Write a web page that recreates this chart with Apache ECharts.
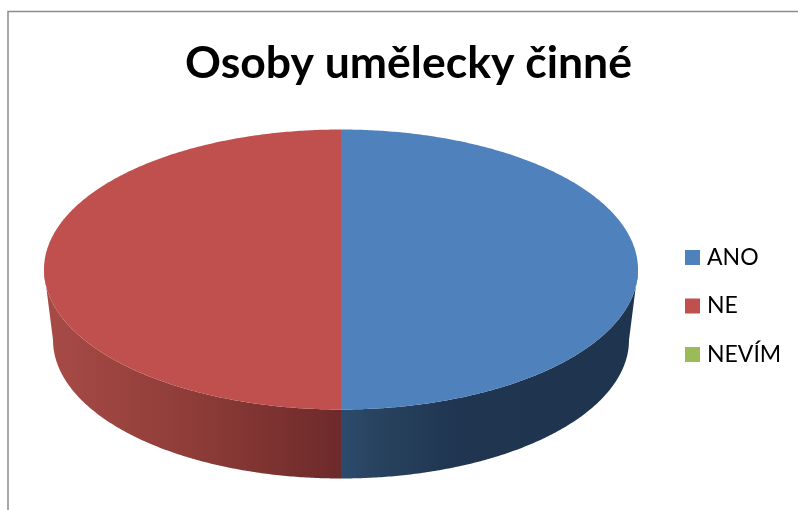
<!DOCTYPE html>
<html><head><meta charset="utf-8">
<style>html,body{margin:0;padding:0;background:#fff}#c{width:798px;height:510px}</style>
<script src="https://cdn.jsdelivr.net/npm/echarts@6/dist/echarts.min.js"></script>
</head><body><div id="c"></div>
<script>
const categories = ['ANO', 'NE', 'NEVÍM'];
const values = [50, 50, 0];

const topColors = ['#4F81BD', '#C0504D', '#9BBB59'];
const wallStops = [
  [[0, '#2C4B6C'], [0.12, '#28435F'], [0.4, '#1F3550'], [1, '#1F344F']],
  [[0, '#A84B47'], [0.5, '#8E3C38'], [1, '#6D2A2A']],
  [[0, '#7A9443'], [1, '#4F6129']]
];
const TOP = {cx: 341, cy: 269.5, rx: 297, ry: 140};
const BOTTOM = {cx: 341, cy: 340, rx: 288, ry: 138.5};
const total = values.reduce((a, b) => a + b, 0);

function pt(e, deg) {
  const t = deg * Math.PI / 180;
  return [e.cx + e.rx * Math.sin(t), e.cy - e.ry * Math.cos(t)];
}
function arc(e, from, to) {
  const out = [], n = Math.max(2, Math.ceil(Math.abs(to - from) * 2));
  for (let i = 0; i <= n; i++) out.push(pt(e, from + (to - from) * i / n));
  return out;
}
function sliceRenderer(idx) {
  return function () {
    const before = values.slice(0, idx).reduce((a, b) => a + b, 0);
    const a0 = before / total * 360, a1 = (before + values[idx]) / total * 360;
    if (a1 <= a0) return {type: 'group', children: []};
    const children = [];
    const w0 = Math.max(a0, 90), w1 = Math.min(a1, 270);
    if (w1 > w0) {
      const up = arc(TOP, w0, w1), down = arc(BOTTOM, w1, w0);
      children.push({
        type: 'polygon', shape: {points: up.concat(down)},
        style: {fill: new echarts.graphic.LinearGradient(0, 0, 1, 0,
          wallStops[idx].map(s => ({offset: s[0], color: s[1]})))}
      });
    }
    children.push({
      type: 'polygon',
      shape: {points: [[TOP.cx, TOP.cy]].concat(arc(TOP, a0, a1))},
      style: {fill: topColors[idx]}
    });
    return {type: 'group', children};
  };
}

const chart = echarts.init(document.getElementById('c'), null, {renderer: 'canvas'});
chart.setOption({
  animation: false,
  backgroundColor: '#fff',
  title: {
    text: 'Osoby umělecky činné',
    left: 403.5, top: 36, textAlign: 'center',
    textStyle: {fontFamily: 'Lato', fontWeight: 'bold', fontSize: 44.5, color: '#000'}
  },
  legend: {
    orient: 'vertical', left: 680, top: 241, itemWidth: 15, itemHeight: 15, itemGap: 25.5,
    icon: 'rect', selectedMode: false, data: categories,
    textStyle: {fontFamily: 'Lato', fontSize: 23, color: '#000', padding: [0, 0, 0, 2]}
  },
  graphic: [
    {type: 'polyline', silent: true, z: -1,
     shape: {points: [[8, 510], [8, 11.5], [798, 11.5]]},
     style: {stroke: '#8C8C8C', lineWidth: 1.5, fill: null}}
  ],
  series: categories.map((name, i) => ({
    type: 'custom', name, coordinateSystem: 'none',
    itemStyle: {color: topColors[i]},
    data: [values[i]],
    renderItem: sliceRenderer(i)
  }))
});
</script></body></html>
